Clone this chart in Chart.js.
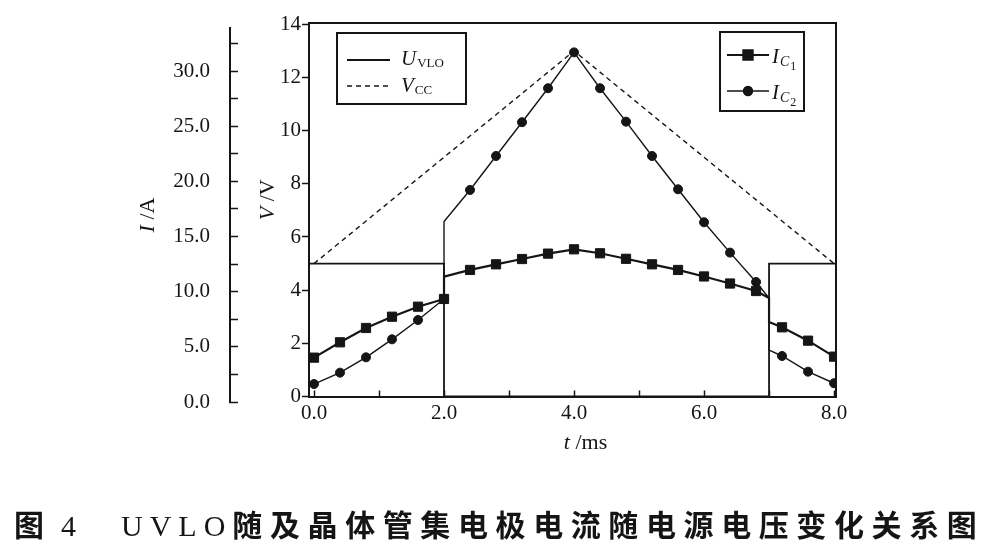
<!DOCTYPE html>
<html lang="zh">
<head>
    <meta charset="UTF-8">
    <title>UVLO 随及晶体管集电极电流随电源电压变化关系图</title>
    <script src="https://cdn.jsdelivr.net/npm/chart.js"></script>
    <style>
        body {
            margin: 0;
            background: #fff;
        }

        .figure {
            position: relative;
            width: 986px;
            height: 546px;
        }

        #uvloChart {
            position: absolute;
            left: 0;
            top: 0;
        }

        /* Caption under the plot */
        .caption {
            position: absolute;
            top: 508px;
            font-family: "Liberation Serif", "Noto Sans CJK SC", serif;
            font-size: 30px;
            line-height: 36px;
            font-weight: 700;
            white-space: pre;
            color: #151515;
        }

        .caption .lat {
            font-weight: 400;
            letter-spacing: 7px;
        }

        .caption .cjk {
            letter-spacing: 7.6px;
        }
    </style>
</head>
<body>
    <div class="figure">
        <canvas id="uvloChart" width="986" height="546"></canvas>
        <div class="caption" style="left:14px">图<span class="lat" style="margin-left:17px">4</span></div>
        <div class="caption" style="left:121px"><span class="lat">UVLO</span><span class="cjk">随及晶体管集电极电流随电源电压变化关系图</span></div>
    </div>

    <script>
        // Time (ms) of the collector current samples; the traces jump at 2.0 and 7.0 ms,
        // so those times appear twice
        const tIC = [0, 0.4, 0.8, 1.2, 1.6, 2.0, 2.0, 2.4, 2.8, 3.2, 3.6, 4.0, 4.4, 4.8,
                     5.2, 5.6, 6.0, 6.4, 6.8, 7.0, 7.0, 7.2, 7.6, 8.0];
        // Collector currents (A)
        const ic1 = [4.02, 5.41, 6.71, 7.73, 8.64, 9.34, 11.36, 11.97, 12.48, 12.96, 13.45, 13.84,
                     13.48, 12.98, 12.48, 11.97, 11.38, 10.74, 10.06, 9.43, 7.25, 6.77, 5.56, 4.11];
        const ic2 = [1.63, 2.66, 4.05, 5.68, 7.43, 9.34, 16.35, 19.22, 22.30, 25.36, 28.44, 31.69,
                     28.44, 25.41, 22.30, 19.28, 16.29, 13.54, 10.88, 9.43, 4.71, 4.17, 2.75, 1.70];
        // points added only to draw the jumps, no marker there
        const bareIdx = [6, 19, 20];

        // Supply voltage (V)
        const tVcc = [0, 4, 8];
        const vcc = [5, 13, 5];

        // UVLO output (V)
        const tUvlo = [-0.1, 2.0, 2.0, 7.0, 7.0, 8.1];
        const uvlo = [5, 5, 0, 0, 5, 5];

        const INK = '#151515';
        const SERIF = '"Liberation Serif", "Times New Roman", serif';

        Chart.defaults.font.family = SERIF;
        Chart.defaults.color = INK;

        const pts = (xs, ys) => xs.map((x, i) => ({ x: x, y: ys[i] }));
        const markerSize = (r) => (ctx) => (bareIdx.includes(ctx.dataIndex) ? 0 : r);

        // fixed box width, and no extra room above/below for the end labels
        const fixWidth = (w) => (s) => {
            s.width = w;
            s.paddingTop = 0;
            s.paddingBottom = 0;
        };

        // The current axis sits a few pixels lower than the voltage axis in the original
        const nudgeCurrentAxis = {
            id: 'nudgeCurrentAxis',
            afterLayout(chart) {
                const s = chart.scales.yI;
                s.top += 5;
                s.bottom += 5.5;
                s.height = s.bottom - s.top;
                s.configure();
            }
        };

        // Top and right edges of the frame
        const frame = {
            id: 'frame',
            beforeDatasetsDraw(chart) {
                const { ctx, chartArea: a } = chart;
                ctx.save();
                ctx.strokeStyle = INK;
                ctx.lineWidth = 2;
                ctx.beginPath();
                ctx.moveTo(a.left, a.top);
                ctx.lineTo(a.right, a.top);
                ctx.lineTo(a.right, a.bottom);
                ctx.stroke();
                ctx.restore();
            }
        };

        // writes a symbol with subscripts: parts = [[text, size, italic, dy], ...]
        function symbol(ctx, x, y, parts) {
            parts.forEach(([txt, size, italic, dy]) => {
                ctx.font = (italic ? 'italic ' : '') + size + 'px ' + SERIF;
                ctx.fillText(txt, x, y + dy);
                x += ctx.measureText(txt).width + 1;
            });
        }

        // axis title "quantity /unit" with the quantity in italics, centred on (x, y)
        function axisTitle(ctx, x, y, rot, qty, unit) {
            const it = 'italic 22px ' + SERIF, up = '22px ' + SERIF;
            ctx.font = it;
            const w1 = ctx.measureText(qty).width;
            ctx.font = up;
            const w2 = ctx.measureText(unit).width;
            ctx.save();
            ctx.translate(x, y);
            ctx.rotate(rot);
            ctx.textBaseline = 'middle';
            ctx.font = it;
            ctx.fillText(qty, -(w1 + w2) / 2, 0);
            ctx.font = up;
            ctx.fillText(unit, -(w1 + w2) / 2 + w1, 0);
            ctx.restore();
        }

        const axisTitles = {
            id: 'axisTitles',
            afterDraw(chart) {
                const { ctx, scales } = chart;
                const { x, y, yI } = scales;
                ctx.save();
                ctx.fillStyle = INK;
                axisTitle(ctx, (x.left + x.right) / 2 + 13, x.top + 47, 0, 't', ' /ms');
                axisTitle(ctx, y.left + 38, (y.top + y.bottom) / 2 - 10, -Math.PI / 2, 'V', ' /V');
                axisTitle(ctx, yI.left + 18, (yI.top + yI.bottom) / 2, -Math.PI / 2, 'I', ' /A');
                ctx.restore();
            }
        };

        // Two boxed legends drawn inside the plot (they need subscripts)
        const boxedLegends = {
            id: 'boxedLegends',
            afterDraw(chart) {
                const { ctx, chartArea: a } = chart;
                ctx.save();
                ctx.strokeStyle = INK;
                ctx.fillStyle = INK;
                ctx.textBaseline = 'alphabetic';

                // left box: U_VLO, V_CC
                let bx = a.left + 28, by = a.top + 10;
                ctx.lineWidth = 2;
                ctx.strokeRect(bx, by, 129, 71);
                ctx.lineWidth = 1.8;
                ctx.beginPath();
                ctx.moveTo(bx + 10, by + 27);
                ctx.lineTo(bx + 53, by + 27);
                ctx.stroke();
                ctx.lineWidth = 1.4;
                ctx.setLineDash([5, 4]);
                ctx.beginPath();
                ctx.moveTo(bx + 10, by + 53);
                ctx.lineTo(bx + 53, by + 53);
                ctx.stroke();
                ctx.setLineDash([]);
                symbol(ctx, bx + 64, by + 32, [['U', 21, true, 0], ['VLO', 13, false, 2]]);
                symbol(ctx, bx + 64, by + 59, [['V', 21, true, 0], ['CC', 13, false, 2]]);

                // right box: I_C1, I_C2
                bx = a.right - 116;
                by = a.top + 9;
                ctx.lineWidth = 2;
                ctx.strokeRect(bx, by, 84, 79);
                const rows = [[by + 23, 'rect', 6.5, 2.2, '1'], [by + 59, 'circle', 4.5, 1.4, '2']];
                rows.forEach(([ry, style, r, lw, n]) => {
                    ctx.lineWidth = lw;
                    ctx.beginPath();
                    ctx.moveTo(bx + 7, ry);
                    ctx.lineTo(bx + 49, ry);
                    ctx.stroke();
                    Chart.helpers.drawPoint(ctx, { pointStyle: style, radius: r, borderWidth: 1 }, bx + 28, ry);
                    ctx.fill();
                    symbol(ctx, bx + 52, ry + 8, [['I', 21, true, 0], ['C', 14, true, 3], [n, 12, false, 7]]);
                });
                ctx.restore();
            }
        };

        const tickFont = { family: SERIF, size: 21 };

        new Chart(document.getElementById('uvloChart'), {
            type: 'line',
            data: {
                datasets: [
                    {
                        label: 'IC1',
                        data: pts(tIC, ic1),
                        yAxisID: 'yI',
                        borderColor: INK,
                        backgroundColor: INK,
                        borderWidth: 2.2,
                        pointStyle: 'rect',
                        pointRadius: markerSize(6.5),
                        pointBorderWidth: 1
                    },
                    {
                        label: 'IC2',
                        data: pts(tIC, ic2),
                        yAxisID: 'yI',
                        borderColor: INK,
                        backgroundColor: INK,
                        borderWidth: 1.4,
                        pointStyle: 'circle',
                        pointRadius: markerSize(4.5),
                        pointBorderWidth: 1
                    },
                    {
                        label: 'UVLO',
                        data: pts(tUvlo, uvlo),
                        yAxisID: 'y',
                        borderColor: INK,
                        borderWidth: 1.8,
                        pointRadius: 0
                    },
                    {
                        label: 'VCC',
                        data: pts(tVcc, vcc),
                        yAxisID: 'y',
                        borderColor: INK,
                        borderWidth: 1.4,
                        borderDash: [5, 4],
                        pointRadius: 0
                    }
                ]
            },
            options: {
                responsive: false,
                animation: false,
                events: [],
                layout: { padding: { left: 130, top: 23, right: 150, bottom: 89.5 } },
                plugins: {
                    legend: { display: false },
                    tooltip: { enabled: false }
                },
                scales: {
                    x: {
                        type: 'linear',
                        position: 'bottom',
                        min: -0.077,
                        max: 8.03,
                        ticks: {
                            stepSize: 1,
                            includeBounds: false,
                            autoSkip: false,
                            maxRotation: 0,
                            padding: 10,
                            font: tickFont,
                            color: INK,
                            callback: v => (v % 2 === 0 ? v.toFixed(1) : '')
                        },
                        grid: { drawOnChartArea: false, tickLength: -6, color: INK, tickWidth: 1.5 },
                        border: { color: INK, width: 2 },
                        afterFit: s => { s.height = 60; }
                    },
                    y: {
                        position: 'left',
                        weight: 0,
                        min: 0,
                        max: 14.05,
                        ticks: {
                            stepSize: 1,
                            includeBounds: false,
                            padding: 1,
                            font: tickFont,
                            color: INK,
                            callback: v => (v % 2 === 0 ? String(v) : '')
                        },
                        grid: { drawOnChartArea: false, tickLength: 7, color: INK, tickWidth: 1.5 },
                        border: { color: INK, width: 2 },
                        afterFit: fixWidth(79)
                    },
                    yI: {
                        position: 'left',
                        weight: 1,
                        min: 0,
                        max: 33.9,
                        ticks: {
                            stepSize: 2.5,
                            includeBounds: false,
                            padding: 28,
                            font: tickFont,
                            color: INK,
                            callback: v => (v % 5 === 0 ? v.toFixed(1) : '')
                        },
                        grid: { drawOnChartArea: false, tickLength: -8, color: INK, tickWidth: 1.5 },
                        border: { color: INK, width: 2 },
                        afterFit: fixWidth(100)
                    }
                }
            },
            plugins: [nudgeCurrentAxis, frame, axisTitles, boxedLegends]
        });
    </script>
</body>
</html>
